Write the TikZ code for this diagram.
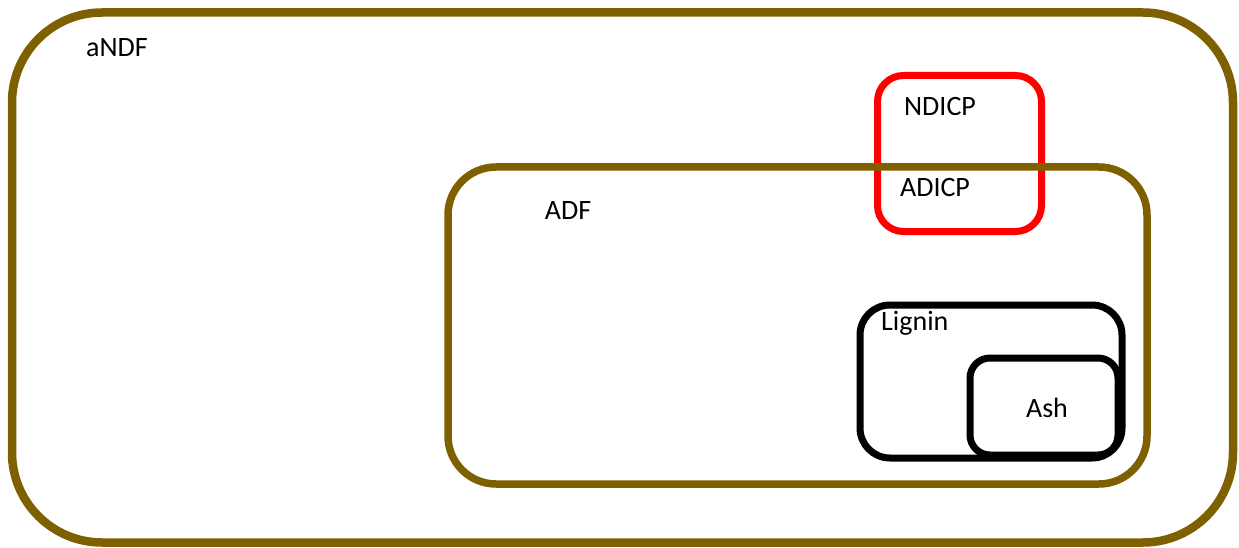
\documentclass[tikz,border=0pt]{standalone}
\usepackage{fontspec}
\setmainfont{Carlito}
\definecolor{fiberbrown}{HTML}{7F6000}
\definecolor{cpred}{HTML}{FF0000}
\tikzset{
  box/.style={draw, rectangle, inner sep=0pt, outer sep=0pt, fill=none},
  lbl/.style={font=\fontsize{28}{32}\selectfont, inner sep=0pt, text=black},
}
\begin{document}
\begin{tikzpicture}[x=1pt,y=-1pt]
  \useasboundingbox (0,0) rectangle (1239,548);
  \fill[white] (0,0) rectangle (1239,548);
  % aNDF outer box
  \node[box, draw=fiberbrown, line width=8.5pt, rounded corners=90pt,
        minimum width=1221pt, minimum height=530pt] (andf) at (622.5,277.5) {};
  % NDICP box, crossing into ADF
  \node[box, draw=cpred, line width=7pt, rounded corners=26pt,
        minimum width=164pt, minimum height=156pt] (ndicp) at (959.5,153.5) {};
  % ADF box
  \node[box, draw=fiberbrown, line width=7.5pt, rounded corners=48pt,
        minimum width=699pt, minimum height=317pt] (adf) at (797.5,325.5) {};
  % Lignin and ash
  \node[box, draw=black, line width=7pt, rounded corners=30pt,
        minimum width=262pt, minimum height=153pt] (lignin) at (991,381.5) {};
  \node[box, draw=black, line width=7pt, rounded corners=20pt,
        minimum width=148pt, minimum height=97pt] (ash) at (1044,406.5) {};
  % labels
  \node[lbl] (tandf) at (117,48) {aNDF};
  \node[lbl] (tadf) at (568,211) {ADF};
  \node[lbl] (tndicp) at (940,107) {NDICP};
  \node[lbl] (tadicp) at (935,188) {ADICP};
  \node[lbl, anchor=west] (tlignin) at (881,323) {Lignin};
  \node[lbl] (tash) at (1047,408) {Ash};
\end{tikzpicture}
\end{document}
